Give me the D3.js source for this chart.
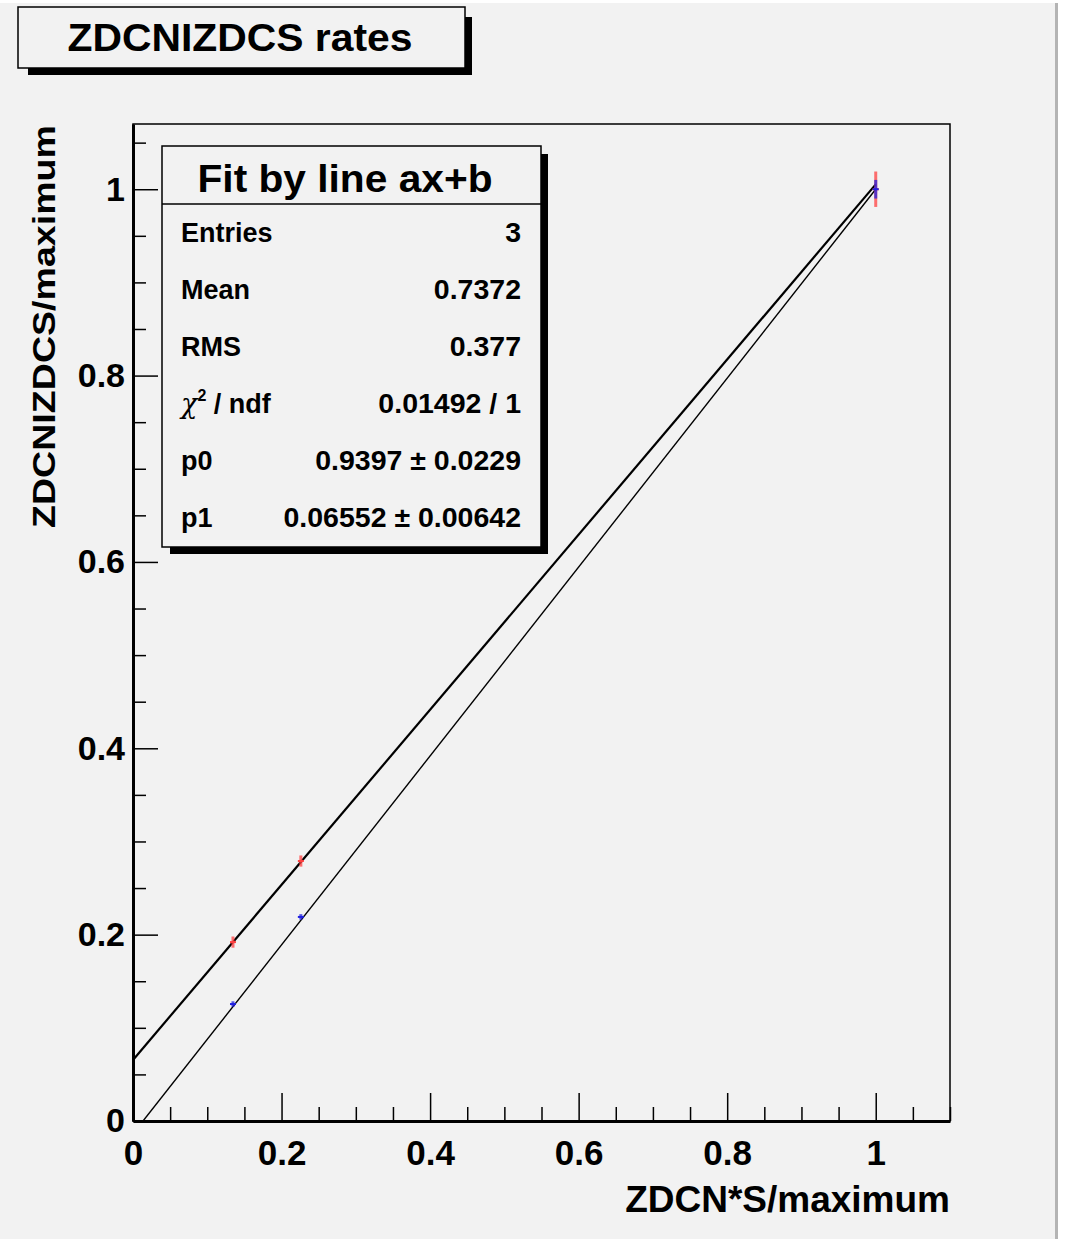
<!DOCTYPE html>
<html>
<head>
<meta charset="utf-8">
<script src="https://cdn.jsdelivr.net/npm/d3@7"></script>
<style>
  body { margin: 0; background: #ffffff; }
  text { font-family: "Liberation Sans", Arial, Helvetica, sans-serif; font-weight: bold; fill: #000; }
</style>
</head>
<body>
<svg id="chart"></svg>
<script>
// measured points (ZDCN / ZDCS normalised rates)
const redX = [0.1346, 0.226, 1.0];
const redY = [0.192, 0.279, 1.0];
const redErr = [0.006, 0.006, 0.019];
const blueX = [0.1346, 0.226, 1.0];
const blueY = [0.1255, 0.219, 1.0];
const blueErr = [0.003, 0.003, 0.01];

// fit lines: slope, intercept
const fitSlopes = [0.9397, 1.0137];
const fitIntercepts = [0.06552, -0.0137];

// axis ticks
const xMajor = [0, 0.2, 0.4, 0.6, 0.8, 1];
const yMajor = [0, 0.2, 0.4, 0.6, 0.8, 1];
const minorStep = 0.05;

// stats box
const statsTitle = 'Fit by line ax+b';
const statsLabels = ['Entries', 'Mean', 'RMS', 'chi2', 'p0', 'p1'];
const statsValues = ['3', '0.7372', '0.377', '0.01492 / 1', '0.9397 \u00b1 0.0229', '0.06552 \u00b1 0.00642'];

const W = 1065, H = 1239;
const frame = {left: 133, right: 950, top: 124, bottom: 1121};

const svg = d3.select('#chart').attr('width', W).attr('height', H);

// canvas background
svg.append('rect').attr('x', 0).attr('y', 3).attr('width', 1055).attr('height', H - 3).attr('fill', '#f2f2f2');
svg.append('line').attr('x1', 1056.5).attr('x2', 1056.5).attr('y1', 3).attr('y2', H)
    .attr('stroke', '#b4b4b4').attr('stroke-width', 3);

const x = d3.scaleLinear().domain([0, 1.1]).range([frame.left, frame.right]);
const y = d3.scaleLinear().domain([0, 1.07]).range([frame.bottom, frame.top]);

// frame
svg.append('rect')
    .attr('x', frame.left).attr('y', frame.top)
    .attr('width', frame.right - frame.left).attr('height', frame.bottom - frame.top)
    .attr('fill', 'none').attr('stroke', '#000').attr('stroke-width', 1.5);

// minor ticks
let xMinor = d3.range(0, 1.1 + 1e-9, minorStep).filter(v => xMajor.every(m => Math.abs(m - v) > 1e-6));
let yMinor = d3.range(0, 1.07, minorStep).filter(v => yMajor.every(m => Math.abs(m - v) > 1e-6));

svg.append('g')
    .attr('transform', `translate(0,${frame.bottom})`)
    .call(d3.axisBottom(x).tickValues(xMinor).tickFormat('').tickSize(-14).tickSizeOuter(0))
    .call(g => g.select('.domain').remove())
    .call(g => g.selectAll('line').attr('stroke-width', 1.5));

svg.append('g')
    .attr('transform', `translate(${frame.left},0)`)
    .call(d3.axisLeft(y).tickValues(yMinor).tickFormat('').tickSize(-13).tickSizeOuter(0))
    .call(g => g.select('.domain').remove())
    .call(g => g.selectAll('line').attr('stroke-width', 1.5));

// major ticks
let xAxis = svg.append('g')
    .attr('transform', `translate(0,${frame.bottom})`)
    .call(d3.axisBottom(x).tickValues(xMajor).tickFormat(d3.format('~g')).tickSize(-28).tickSizeOuter(0).tickPadding(19));
xAxis.select('.domain').attr('stroke-width', 3);
xAxis.selectAll('line').attr('stroke-width', 1.5);
xAxis.selectAll('text').attr('font-size', 35).attr('font-family', null);

let yAxis = svg.append('g')
    .attr('transform', `translate(${frame.left},0)`)
    .call(d3.axisLeft(y).tickValues(yMajor).tickFormat(d3.format('~g')).tickSize(-25).tickSizeOuter(0).tickPadding(8));
yAxis.select('.domain').attr('stroke-width', 3);
yAxis.selectAll('line').attr('stroke-width', 1.5);
yAxis.selectAll('text').attr('font-size', 34).attr('font-family', null);

// axis titles
svg.append('text')
    .attr('x', frame.right).attr('y', 1212)
    .attr('text-anchor', 'end').attr('font-size', 37)
    .text('ZDCN*S/maximum');

svg.append('text')
    .attr('transform', `translate(55,${frame.top + 1}) rotate(-90)`)
    .attr('text-anchor', 'end').attr('font-size', 31)
    .attr('textLength', 403).attr('lengthAdjust', 'spacingAndGlyphs')
    .text('ZDCNIZDCS/maximum');

// fit lines, clipped to frame
svg.append('clipPath').attr('id', 'clip')
    .append('rect')
    .attr('x', frame.left).attr('y', frame.top)
    .attr('width', frame.right - frame.left).attr('height', frame.bottom - frame.top);

const lineWidths = [2.2, 1.4];
fitSlopes.forEach((a, i) => {
    let b = fitIntercepts[i];
    let x0 = Math.max(0, -b / a);
    svg.append('line')
        .attr('clip-path', 'url(#clip)')
        .attr('x1', x(x0)).attr('y1', y(a * x0 + b))
        .attr('x2', x(1)).attr('y2', y(a + b))
        .attr('stroke', '#000').attr('stroke-width', lineWidths[i]);
});

// data points with error bars
function drawPoints(xs, ys, errs, colour, hw) {
    let g = svg.append('g');
    xs.forEach((xv, i) => {
        g.append('line')
            .attr('x1', x(xv)).attr('x2', x(xv))
            .attr('y1', y(ys[i] - errs[i])).attr('y2', y(ys[i] + errs[i]))
            .attr('stroke', colour).attr('stroke-width', 3).attr('stroke-opacity', 0.75);
        g.append('line')
            .attr('x1', x(xv) - hw).attr('x2', x(xv) + hw)
            .attr('y1', y(ys[i])).attr('y2', y(ys[i]))
            .attr('stroke', colour).attr('stroke-width', 2);
    });
}
drawPoints(redX, redY, redErr, '#ff4040', 3);
drawPoints(blueX, blueY, blueErr, '#2020e0', 3);

// box with ROOT style shadow
function shadowBox(bx, by, bw, bh, off, thick) {
    svg.append('rect')
        .attr('x', bx + off).attr('y', by + off)
        .attr('width', bw + thick - off).attr('height', bh + thick - off)
        .attr('fill', '#000');
    svg.append('rect')
        .attr('x', bx).attr('y', by).attr('width', bw).attr('height', bh)
        .attr('fill', '#f2f2f2').attr('stroke', '#000').attr('stroke-width', 1.5);
}

// title box
shadowBox(18, 7, 447, 61, 10, 7);
svg.append('text')
    .attr('x', 240).attr('y', 51)
    .attr('text-anchor', 'middle').attr('font-size', 39)
    .attr('textLength', 345).attr('lengthAdjust', 'spacingAndGlyphs')
    .text('ZDCNIZDCS rates');

// stats box
const sb = {x: 162, y: 146, w: 379, h: 401};
shadowBox(sb.x, sb.y, sb.w, sb.h, 8, 7);
svg.append('line')
    .attr('x1', sb.x).attr('x2', sb.x + sb.w)
    .attr('y1', 204).attr('y2', 204)
    .attr('stroke', '#000').attr('stroke-width', 1.5);
svg.append('text')
    .attr('x', 345).attr('y', 192)
    .attr('text-anchor', 'middle').attr('font-size', 39)
    .attr('textLength', 295).attr('lengthAdjust', 'spacingAndGlyphs')
    .text(statsTitle);

const rowY = d3.scalePoint().domain(statsLabels).range([242, 527]);
statsLabels.forEach((lab, i) => {
    let t = svg.append('text')
        .attr('x', 181).attr('y', rowY(lab))
        .attr('font-size', 27);
    if (lab === 'chi2') {
        t.append('tspan').attr('font-weight', 'normal').attr('font-family', 'DejaVu Serif').attr('font-style', 'italic').text('\u03c7');
        t.append('tspan').attr('font-size', 16).attr('dy', -12).text('2');
        t.append('tspan').attr('dy', 12).text(' / ndf');
    } else {
        t.text(lab);
    }
    svg.append('text')
        .attr('x', 521).attr('y', rowY(lab))
        .attr('text-anchor', 'end').attr('font-size', 28.5)
        .text(statsValues[i]);
});
</script>
</body>
</html>
